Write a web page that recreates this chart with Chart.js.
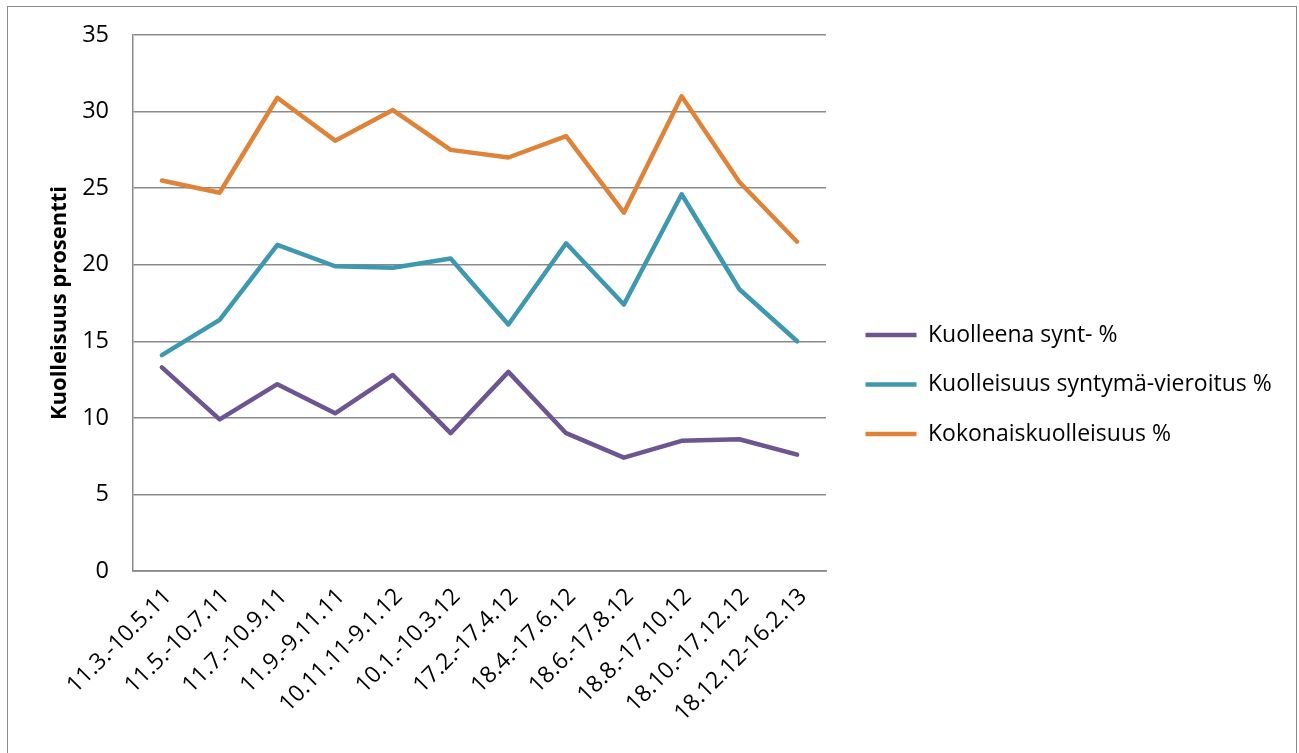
<!DOCTYPE html>
<html lang="fi">
<head>
    <meta charset="UTF-8">
    <title>Kuolleisuus</title>
    <script src="https://cdn.jsdelivr.net/npm/chart.js"></script>
    <style>
        html, body { margin: 0; padding: 0; background: #fff; overflow: hidden; }
        .frame { position: absolute; left: 7px; top: 6px; width: 1288px; height: 800px; border: 1.5px solid #8a8a8a; }
        .chart-container { position: absolute; left: 0; top: 0; width: 1299px; height: 753px; }
    </style>
</head>
<body>
    <div class="frame"></div>
    <div class="chart-container">
        <canvas id="mortalityChart"></canvas>
    </div>

    <script>
        // jaksot ja prosentit
        const periods = ['11.3.-10.5.11', '11.5.-10.7.11', '11.7.-10.9.11', '11.9.-9.11.11', '10.11.11-9.1.12',
            '10.1.-10.3.12', '17.2.-17.4.12', '18.4.-17.6.12', '18.6.-17.8.12', '18.8.-17.10.12',
            '18.10.-17.12.12', '18.12.12-16.2.13'];
        const stillborn = [13.3, 9.9, 12.2, 10.3, 12.8, 9.0, 13.0, 9.0, 7.4, 8.5, 8.6, 7.6];
        const preWeaning = [14.1, 16.4, 21.3, 19.9, 19.8, 20.4, 16.1, 21.4, 17.4, 24.6, 18.4, 15.0];
        const total = [25.5, 24.7, 30.9, 28.1, 30.1, 27.5, 27.0, 28.4, 23.4, 31.0, 25.4, 21.5];
        const yTicks = [0, 5, 10, 15, 20, 25, 30, 35];

        const font = "'Open Sans', 'Liberation Sans', sans-serif";
        const gridColor = '#8a8a8a';

        function series(label, data, color) {
            return {
                label: label,
                data: data,
                borderColor: color,
                backgroundColor: color,
                borderWidth: 4.5,
                pointRadius: 0,
                pointHoverRadius: 0,
                tension: 0,
                borderCapStyle: 'round',
                borderJoinStyle: 'round'
            };
        }

        // legenda oikealle, kiinteä leveys ja paikka
        const legendPlacement = {
            id: 'legendPlacement',
            afterInit(chart) {
                const legend = chart.legend;
                const fit = legend.fit;
                legend.fit = function () {
                    fit.call(this);
                    this.width = 473;
                };
            },
            afterLayout(chart) {
                const legend = chart.legend;
                legend.left += 13;
                legend.right += 13;
                legend.top = 297;
            }
        };

        function draw() {
            const ctx = document.getElementById('mortalityChart').getContext('2d');
            new Chart(ctx, {
                type: 'line',
                data: {
                    labels: periods,
                    datasets: [
                        series('Kuolleena synt- %', stillborn, '#6d5592'),
                        series('Kuolleisuus syntymä-vieroitus %', preWeaning, '#3e98b0'),
                        series('Kokonaiskuolleisuus %', total, '#de8338')
                    ]
                },
                plugins: [legendPlacement],
                options: {
                    responsive: true,
                    maintainAspectRatio: false,
                    animation: false,
                    layout: { padding: { top: 35, left: 47, right: 0, bottom: 0 } },
                    scales: {
                        y: {
                            min: 0,
                            max: 35,
                            afterBuildTicks: function (axis) {
                                axis.ticks = yTicks.map(v => ({ value: v }));
                            },
                            afterFit: function (scale) {
                                scale.width = 133 - 47;
                                scale.paddingTop = 0;
                                scale.paddingBottom = 0;
                            },
                            grid: { color: gridColor, lineWidth: 1.4, drawTicks: false },
                            border: { color: gridColor, width: 1.5 },
                            ticks: { color: '#000', padding: 24, font: { family: font, size: 23.5 } },
                            title: {
                                display: true,
                                text: 'Kuolleisuus prosentti',
                                color: '#000',
                                padding: { top: 0, bottom: 0 },
                                font: { family: font, size: 22, weight: 'bold' }
                            }
                        },
                        x: {
                            offset: true,
                            afterFit: function (scale) { scale.height = 753 - 571; },
                            grid: { display: false, drawTicks: false },
                            border: { color: gridColor, width: 1.8 },
                            ticks: {
                                color: '#000',
                                padding: 12,
                                labelOffset: 6,
                                minRotation: 45,
                                maxRotation: 45,
                                autoSkip: false,
                                font: { family: font, size: 23 }
                            }
                        }
                    },
                    plugins: {
                        tooltip: { enabled: false },
                        legend: {
                            position: 'right',
                            align: 'start',
                            labels: {
                                color: '#000',
                                usePointStyle: true,
                                pointStyle: 'line',
                                pointStyleWidth: 51,
                                boxHeight: 22,
                                padding: 26.5,
                                font: { family: font, size: 23 }
                            }
                        }
                    }
                }
            });
        }

        if (document.fonts && document.fonts.load) {
            Promise.all([
                document.fonts.load("23px 'Open Sans'"),
                document.fonts.load("bold 22px 'Open Sans'")
            ]).then(draw, draw);
        } else {
            draw();
        }
    </script>
</body>
</html>
